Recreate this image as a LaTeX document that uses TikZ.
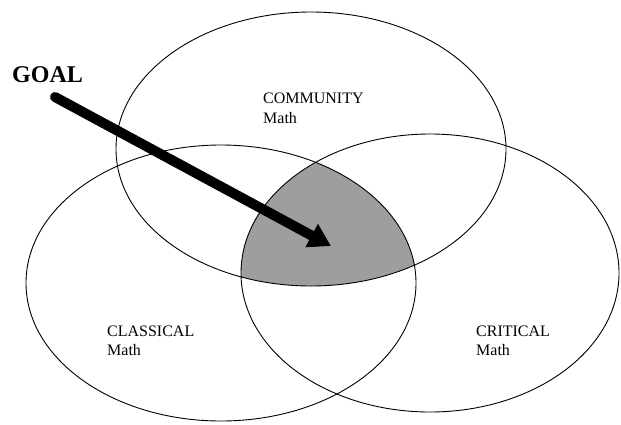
\documentclass[tikz,border=0pt]{standalone}
\usepackage{fontspec}
\setmainfont{Liberation Serif}
\usetikzlibrary{arrows.meta}
\begin{document}
\begin{tikzpicture}[x=1pt,y=-1pt,
  venn/.style={draw=black, line width=0.9pt},
  lab/.style={font=\fontsize{16}{20}\selectfont, anchor=base west, inner sep=0pt},
  goalstyle/.style={font=\fontsize{24}{28}\selectfont\bfseries, anchor=base west, inner sep=0pt},
  bigarrow/.style={line width=10pt, line cap=round, -{Triangle[length=22pt,width=25pt]}},
  core/.style={fill=black!38}
]
\useasboundingbox (0,0) rectangle (621,424);
% shaded common region
\begin{scope}
  \clip (311,149) ellipse [x radius=195, y radius=137];
  \clip (221,283) ellipse [x radius=195, y radius=138];
  \fill[core] (430,273) ellipse [x radius=189, y radius=139];
\end{scope}
% circles
\draw[venn] (311,149) ellipse [x radius=195, y radius=137];
\draw[venn] (221,283) ellipse [x radius=195, y radius=138];
\draw[venn] (430,273) ellipse [x radius=189, y radius=139];
% labels
\node[lab] (comm) at (263,103) {COMMUNITY};
\node[lab] (commm) at (263,123) {Math};
\node[lab] (clas) at (107,336) {CLASSICAL};
\node[lab] (clasm) at (107,355) {Math};
\node[lab] (crit) at (476,336) {CRITICAL};
\node[lab] (critm) at (476,355) {Math};
\node[goalstyle] (goal) at (12,82) {GOAL};
% arrow
\coordinate (tail) at (55,97);
\coordinate (tip) at (331,246);
\draw[bigarrow] (tail) -- (tip);
\end{tikzpicture}
\end{document}
